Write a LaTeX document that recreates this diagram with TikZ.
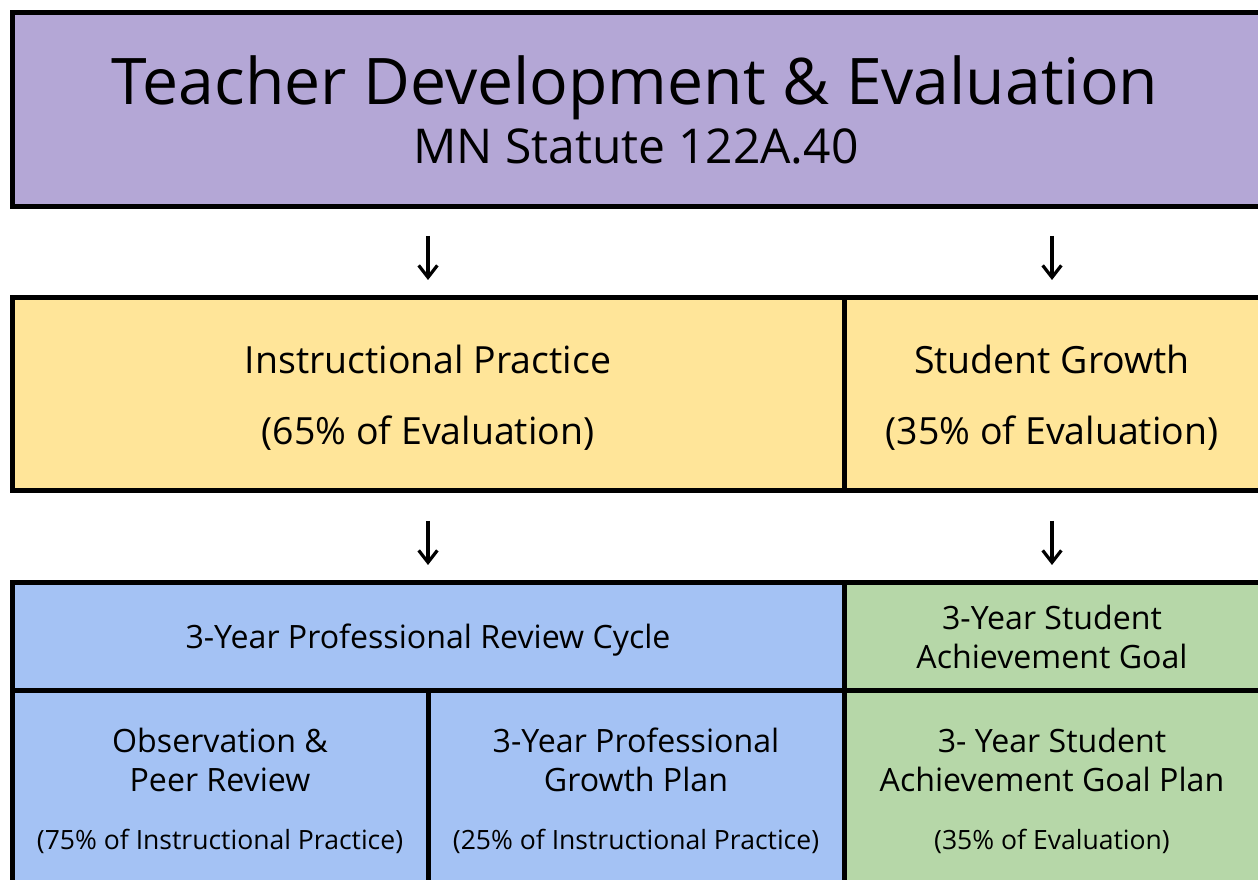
\documentclass[tikz,border=0pt]{standalone}
\usepackage{fontspec}
\setmainfont{Open Sans}
\usetikzlibrary{arrows.meta}
\definecolor{cpurple}{HTML}{B4A7D6}
\definecolor{cyellow}{HTML}{FFE599}
\definecolor{cblue}{HTML}{A4C2F4}
\definecolor{cgreen}{HTML}{B6D7A8}
\tikzset{
  frame/.style={line width=3.75pt, draw=black},
  divider/.style={line width=3.75pt, draw=black},
  conn/.style={line width=2.4pt, -{Straight Barb[length=9pt,width=14pt,line width=2.4pt]}},
  title/.style={font=\fontsize{48.2}{56}\selectfont, anchor=base},
  subtitle/.style={font=\fontsize{36}{42}\selectfont, anchor=base},
  mid/.style={font=\fontsize{28.1}{33}\selectfont, anchor=base},
  low/.style={font=\fontsize{24.1}{29}\selectfont, anchor=base},
  small/.style={font=\fontsize{19.9}{24}\selectfont, anchor=base},
}
\begin{document}
\begin{tikzpicture}[x=0.75pt,y=-0.75pt]
\useasboundingbox (0,0) rectangle (1258,880);
% top box
\fill[cpurple] (12.5,12.5) rectangle (1265,206.5);
\draw[frame] (1265,12.5) -- (12.5,12.5) -- (12.5,206.5) -- (1265,206.5);
\node[title] (t1) at (635,105) {Teacher Development \& Evaluation};
\node[subtitle] (t2) at (636,164) {MN Statute 122A.40};
% middle row
\fill[cyellow] (12.5,297.5) rectangle (1265,490.5);
\draw[frame] (1265,297.5) -- (12.5,297.5) -- (12.5,490.5) -- (1265,490.5);
\draw[divider] (844,297.5) -- (844,490.5);
\node[mid] (ip1) at (428,374) {Instructional Practice};
\node[mid] (ip2) at (428,445) {(65\% of Evaluation)};
\node[mid] (sg1) at (1052,374) {Student Growth};
\node[mid] (sg2) at (1052,445) {(35\% of Evaluation)};
% arrows
\coordinate (a1s) at (428,236); \coordinate (a1e) at (428,280);
\coordinate (a2s) at (1052,236); \coordinate (a2e) at (1052,280);
\coordinate (a3s) at (428,521); \coordinate (a3e) at (428,565);
\coordinate (a4s) at (1052,521); \coordinate (a4e) at (1052,565);
\draw[conn] (a1s) -- (a1e);
\draw[conn] (a2s) -- (a2e);
\draw[conn] (a3s) -- (a3e);
\draw[conn] (a4s) -- (a4e);
% bottom row
\fill[cblue] (12.5,582.5) rectangle (844,885);
\fill[cgreen] (844,582.5) rectangle (1265,885);
\draw[frame] (1265,582.5) -- (12.5,582.5) -- (12.5,885);
\draw[divider] (12.5,691) -- (1265,691);
\draw[divider] (428,691) -- (428,885);
\draw[divider] (844,582.5) -- (844,885);
\node[low] (rc) at (428,649) {3-Year Professional Review Cycle};
\node[low] (sa1) at (1052,630) {3-Year Student};
\node[low] (sa2) at (1052,668) {Achievement Goal};
\node[low] (ob1) at (220,753) {Observation \&};
\node[low] (ob2) at (220,791) {Peer Review};
\node[small] (ob3) at (220,849) {(75\% of Instructional Practice)};
\node[low] (gp1) at (636,753) {3-Year Professional};
\node[low] (gp2) at (636,791) {Growth Plan};
\node[small] (gp3) at (636,849) {(25\% of Instructional Practice)};
\node[low] (ag1) at (1052,753) {3- Year Student};
\node[low] (ag2) at (1052,791) {Achievement Goal Plan};
\node[small] (ag3) at (1052,849) {(35\% of Evaluation)};
\end{tikzpicture}
\end{document}
